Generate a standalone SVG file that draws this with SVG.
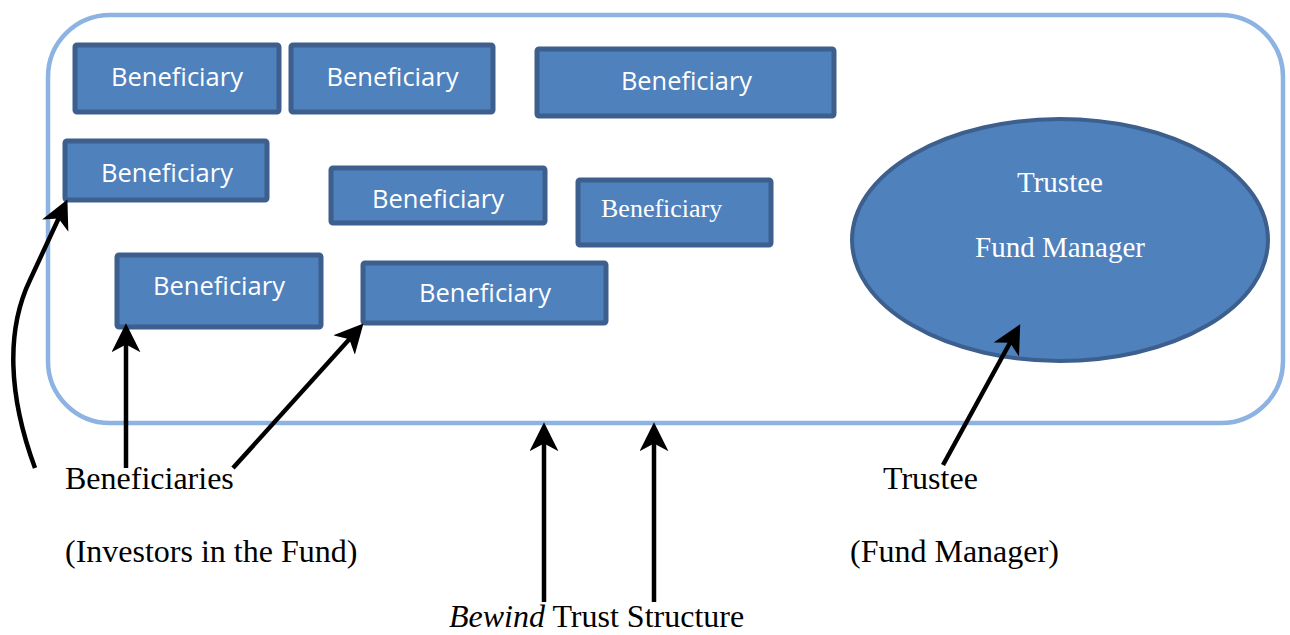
<svg xmlns="http://www.w3.org/2000/svg" width="1290" height="635" viewBox="0 0 1290 635">
<style>
.box{fill:#4f81bd;stroke:#3c5f8d;stroke-width:5}
.bt{font-family:"Open Sans","Noto Sans","Liberation Sans",sans-serif;font-size:26px;fill:#fff;text-anchor:middle}
.st{font-family:"Liberation Serif","Times New Roman",serif;fill:#fff}
.lbl{font-family:"Liberation Serif","Times New Roman",serif;font-size:32px;fill:#000}
.arr{fill:none;stroke:#000;stroke-width:4.5;marker-end:url(#ah)}
</style>
<defs>
<marker id="ah" markerUnits="userSpaceOnUse" markerWidth="30" markerHeight="30" viewBox="0 0 27 27" refX="20" refY="13" orient="auto">
<path d="M26,13 L0,0 L7,13 L0,26 Z" fill="#000"/>
</marker>
</defs>
<g id="structure">
<rect x="48" y="15" width="1235" height="408" rx="62" ry="62" fill="none" stroke="#8db3e2" stroke-width="4.5"/>
</g>
<g id="beneficiary1"><rect class="box" x="75" y="45" width="204" height="67" rx="2"/><text class="bt" x="177" y="86" textLength="132" lengthAdjust="spacingAndGlyphs">Beneficiary</text></g>
<g id="beneficiary2"><rect class="box" x="291" y="45" width="202" height="67" rx="2"/><text class="bt" x="392.5" y="86" textLength="132" lengthAdjust="spacingAndGlyphs">Beneficiary</text></g>
<g id="beneficiary3"><rect class="box" x="537" y="49" width="297" height="67" rx="2"/><text class="bt" x="686.5" y="90" textLength="131" lengthAdjust="spacingAndGlyphs">Beneficiary</text></g>
<g id="beneficiary4"><rect class="box" x="65" y="141" width="202" height="59" rx="2"/><text class="bt" x="167" y="182" textLength="132" lengthAdjust="spacingAndGlyphs">Beneficiary</text></g>
<g id="beneficiary5"><rect class="box" x="331" y="168" width="214" height="55" rx="2"/><text class="bt" x="438" y="208" textLength="132" lengthAdjust="spacingAndGlyphs">Beneficiary</text></g>
<g id="beneficiary6"><rect class="box" x="578" y="180" width="193" height="65" rx="2"/><text class="st" x="601" y="217" font-size="26">Beneficiary</text></g>
<g id="beneficiary7"><rect class="box" x="117" y="255" width="204" height="72" rx="2"/><text class="bt" x="219" y="295" textLength="132" lengthAdjust="spacingAndGlyphs">Beneficiary</text></g>
<g id="beneficiary8"><rect class="box" x="363" y="263" width="243" height="60" rx="2"/><text class="bt" x="485" y="302" textLength="132" lengthAdjust="spacingAndGlyphs">Beneficiary</text></g>
<g id="trustee">
<ellipse cx="1060" cy="240" rx="208" ry="121" fill="#4f81bd" stroke="#3c5f8d" stroke-width="4"/>
<text class="st" x="1060" y="192" font-size="29" text-anchor="middle">Trustee</text>
<text class="st" x="1060" y="257" font-size="29" text-anchor="middle">Fund Manager</text>
</g>
<g id="connectors">
<path class="arr" d="M35,468 C8,395 6,330 30,280 L64.6,205.5"/>
<path class="arr" d="M126,468 L126,330"/>
<path class="arr" d="M233,468 L359,328.5"/>
<path class="arr" d="M544,602 L544,429"/>
<path class="arr" d="M654,602 L654,429"/>
<path class="arr" d="M943,465 L1017,330"/>
</g>
<g id="labels">
<text class="lbl" x="65" y="489">Beneficiaries</text>
<text class="lbl" x="65" y="562">(Investors in the Fund)</text>
<text class="lbl" x="883" y="489">Trustee</text>
<text class="lbl" x="850" y="562">(Fund Manager)</text>
<text class="lbl" x="449" y="627"><tspan font-style="italic">Bewind</tspan> Trust Structure</text>
</g>
</svg>
